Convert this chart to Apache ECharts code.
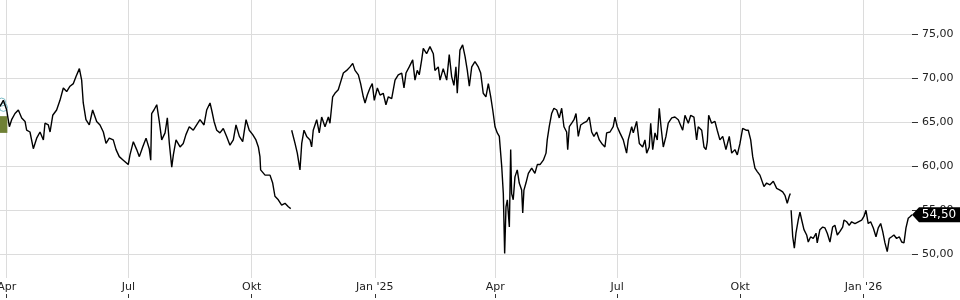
<!DOCTYPE html>
<html><head><meta charset="utf-8">
<script src="https://cdn.jsdelivr.net/npm/echarts@6/dist/echarts.min.js"></script>
<style>html,body{margin:0;padding:0;background:#fff}#c{width:960px;height:300px}</style>
</head><body><div id="c"></div>
<script>
// Start of the visible period; DAYS are day offsets from it
const START_DATE = '2024-03-27';
const END_DAY = 681.3;

const DAYS = [
0,2.5,5.0,7.0,8.7,11.2,13.7,16.2,18.7,19.9,22.4,24.9,27.4,29.9,32.4,33.6,36.1,37.4,39.4,42.3,
44.8,47.3,49.8,52.3,54.8,56.8,59.3,61.0,62.2,64.2,66.7,69.2,72.2,74.7,77.2,79.2,81.6,84.6,86.7,89.1,
92.1,95.8,97.1,99.6,102.1,104.1,106.6,109.1,111.5,112.6,113.3,115.0,117.1,119.0,120.8,123.3,125.0,126.5,128.3,129.5,
131.5,134.5,136.9,138.9,141.4,144.4,146.9,149.4,152.4,154.4,156.9,158.4,159.9,161.9,164.3,166.8,169.3,171.8,174.3,176.3,
178.8,181.3,183.8,186.2,188.8,191.2,193.0,194.2,194.7,198.0,201.7,203.7,205.4,207.9,210.4,212.9,215.4,217.2,217.5,
217.9,220.4,222.1,224.1,225.4,227.1,229.1,231.6,232.8,234.0,236.6,238.5,240.3,242.8,245.3,246.5,248.5,250.2,252.7,254.5,
256.5,259.0,261.5,263.5,265.2,267.7,269.4,271.4,272.7,274.4,276.4,278.1,279.6,281.9,283.9,286.3,288.3,290.1,292.6,295.1,
297.5,300.1,301.8,303.3,305.7,308.3,310.0,311.7,313.2,315.0,316.2,318.7,321.2,323.7,324.9,327.4,328.7,331.1,333.7,335.6,
337.4,339.1,340.6,341.6,343.6,345.6,347.4,349.1,350.6,352.4,354.8,357.3,359.1,361.0,363.0,364.8,366.6,368.1,369.8,371.5,
373.0,374.8,376.0,377.0,378.0,379.0,380.5,381.5,382.2,383.4,384.7,386.4,387.9,389.7,390.5,391.4,392.9,394.7,397.2,399.6,
401.4,403.4,405.9,407.9,408.8,410.3,412.1,413.8,415.9,417.8,419.6,421.3,423.3,424.1,425.3,427.1,428.8,430.3,432.0,433.8,
435.7,438.3,440.2,442.0,443.7,445.7,447.7,449.5,451.9,453.2,455.7,458.1,459.4,461.1,463.1,465.6,468.1,469.3,471.9,473.1,
475.6,477.6,480.1,481.8,483.1,485.0,486.1,487.6,489.3,491.0,492.5,493.8,495.5,497.5,499.2,501.8,504.2,506.7,508.0,510.0,
511.7,514.2,516.0,518.4,520.4,521.6,524.2,525.9,527.4,528.4,529.4,531.6,534.1,535.8,537.8,539.9,542.3,544.8,546.6,549.0,
550.8,552.8,554.8,557.3,559.0,560.8,562.3,564.0,565.7,567.7,569.0,570.7,572.7,575.2,577.7,580.2,582.7,584.7,586.4,588.1,
589.6,590.4,590.7,
591.0,592.2,593.4,594.6,596.3,597.6,598.9,600.6,602.6,603.8,605.6,607.5,609.6,610.5,612.5,614.6,616.3,618.0,620.0,622.0,
623.7,625.5,627.5,629.5,630.5,632.5,634.4,636.2,638.7,641.2,643.7,645.4,646.9,648.6,650.4,652.4,654.4,656.1,657.9,659.4,
661.1,662.8,664.3,666.1,667.8,669.8,671.8,673.6,675.3,676.8,678.5,680.0,681.3
];
const PRICES = [
66.8,67.5,66.4,64.5,65.3,66.0,66.4,65.5,65.1,64.1,63.9,62.0,63.2,63.9,63.0,64.9,64.7,63.9,65.8,66.4,
67.5,68.9,68.5,69.1,69.4,70.2,71.1,69.8,67.2,65.3,64.7,66.4,65.1,64.7,63.9,62.6,63.2,63.0,61.9,61.1,
60.7,60.2,61.3,62.8,61.9,61.1,62.2,63.2,62.0,60.7,66.0,66.4,67.0,65.1,63.0,63.8,65.5,62.6,59.9,61.3,
63.0,62.2,62.6,63.6,64.5,64.1,64.7,65.3,64.7,66.4,67.2,66.2,65.1,64.1,63.8,64.3,63.4,62.4,63.0,64.7,
63.4,62.8,65.3,64.1,63.6,63.0,62.2,61.1,59.6,59.0,59.0,58.1,56.6,56.2,55.6,55.8,55.4,55.2,null,
64.1,62.6,61.5,59.6,62.6,64.1,63.4,63.0,62.2,64.1,65.3,63.8,65.6,64.5,65.6,64.9,67.9,68.3,68.7,69.6,
70.6,70.9,71.3,71.7,70.9,70.4,69.4,67.9,67.2,68.1,68.9,69.4,67.5,68.9,68.1,68.3,67.0,67.9,67.7,69.8,
70.4,70.6,68.9,70.6,71.3,72.1,69.8,70.9,70.4,72.1,73.4,72.8,73.6,72.8,70.9,71.3,69.8,71.1,69.8,72.7,
70.2,69.2,71.3,68.3,73.2,73.8,72.5,70.9,69.1,71.3,71.9,71.3,70.6,68.3,67.9,69.4,67.9,66.4,64.5,63.8,
63.4,60.0,56.9,50.1,55.4,56.2,53.1,61.9,56.9,56.2,58.8,59.6,58.1,57.3,54.7,57.3,58.1,59.2,59.8,59.2,
60.2,60.2,60.7,61.5,63.0,64.5,66.0,66.6,66.4,65.5,66.6,64.5,63.9,61.9,64.5,64.9,65.3,66.0,63.4,64.7,
64.9,65.1,65.6,63.9,63.4,63.9,63.0,62.6,62.2,63.8,63.9,64.5,65.6,64.5,63.8,63.0,61.5,63.0,64.5,63.8,
65.1,62.6,62.2,63.0,61.5,62.2,64.9,61.9,63.8,63.0,66.6,64.5,62.2,63.4,64.9,65.5,65.6,65.3,65.5,64.1,
65.8,64.9,65.8,65.6,63.0,64.5,64.1,62.2,61.9,62.8,65.8,64.9,65.1,64.1,63.0,63.4,61.9,63.4,61.5,61.9,
61.3,62.6,64.3,64.1,64.1,63.0,61.1,59.8,59.4,59.0,58.8,57.7,58.1,57.9,58.3,57.5,57.3,57.1,56.7,55.8,
56.6,56.9,null,
55.0,52.0,50.7,52.4,53.9,54.8,53.9,52.8,52.2,51.4,52.0,51.8,52.4,51.3,52.8,53.1,53.0,52.4,51.4,53.1,
53.3,52.2,52.6,53.1,53.9,53.7,53.3,53.7,53.5,53.7,53.9,54.3,55.0,53.5,53.7,53.0,52.0,53.0,53.5,52.6,
51.3,50.3,51.8,52.0,52.2,51.8,52.0,51.4,51.3,53.0,54.1,54.3,54.5
];

// Axis ticks
const TICK_DATES = ['2024-04-01','2024-07-01','2024-10-01','2025-01-01','2025-04-01','2025-07-01','2025-10-01','2026-01-01'];
const TICK_LABELS = ['Apr','Jul','Okt',"Jan '25",'Apr','Jul','Okt',"Jan '26"];
const Y_TICKS = [50,55,60,65,70,75];

// Marker at the start of the period (value band and points)
const MARKER_BAND = [63.8, 65.7];
const MARKER_BAND_DAYS = [0, 5.5];
const MARKER_POINT_DAYS = [1.2, 2.6];
const MARKER_POINT_VALUES = [67.3, 66.7];

const DAY = 86400000;
const t0 = Date.parse(START_DATE);
const tickTs = TICK_DATES.map(d => Date.parse(d));
const lineData = DAYS.map((d, i) => [t0 + d * DAY, PRICES[i]]);
const lastIdx = PRICES.length - 1;
const fmt = v => Number(v).toFixed(2).replace('.', ',');
const FONT = 'DejaVu Sans';

const chart = echarts.init(document.getElementById('c'), null, {renderer: 'canvas'});
chart.setOption({
  animation: false,
  grid: {left: 0, right: 48, top: 0, bottom: 22, containLabel: false, outerBoundsMode: 'none'},
  xAxis: {
    type: 'value', min: t0, max: t0 + END_DAY * DAY, offset: 20,
    axisLine: {show: false},
    axisTick: {show: true, inside: true, length: 4, customValues: tickTs, lineStyle: {color: '#333'}},
    axisLabel: {
      inside: true, margin: 5, customValues: tickTs, color: '#222', fontSize: 11, fontFamily: FONT,
      formatter: v => { const i = tickTs.findIndex(t => Math.abs(t - v) < DAY); return i >= 0 ? TICK_LABELS[i] : ''; }
    },
    splitLine: {show: true, lineStyle: {color: '#dcdcdc', width: 1}}
  },
  yAxis: {
    type: 'value', position: 'right', min: 47.31, max: 78.9,
    axisLine: {show: false},
    axisTick: {show: true, length: 6, customValues: Y_TICKS, lineStyle: {color: '#333'}},
    axisLabel: {customValues: Y_TICKS, margin: 10, formatter: fmt, color: '#222', fontSize: 11, fontFamily: FONT},
    splitLine: {show: true, lineStyle: {color: '#dcdcdc', width: 1}}
  },
  series: [
    {
      type: 'line', data: lineData, showSymbol: false, connectNulls: false, clip: false,
      lineStyle: {color: '#000', width: 1.4},
      markArea: {
        silent: true,
        itemStyle: {color: '#6f8035'},
        data: [[{coord: [t0 + MARKER_BAND_DAYS[0] * DAY, MARKER_BAND[0]]}, {coord: [t0 + MARKER_BAND_DAYS[1] * DAY, MARKER_BAND[1]]}]]
      },
      markPoint: {
        silent: true,
        symbol: 'path://M0,7 L7,0 L48,0 L48,14 L7,14 Z',
        symbolSize: [48, 15],
        symbolOffset: [24, 0],
        itemStyle: {color: '#000'},
        label: {show: true, position: 'inside', offset: [3, 0], color: '#fff', fontSize: 12, fontFamily: FONT, formatter: p => fmt(p.value)},
        data: [{coord: lineData[lastIdx], value: PRICES[lastIdx]}]
      }
    },
    {
      type: 'scatter', symbol: 'circle', symbolSize: 8, silent: true,
      itemStyle: {color: 'rgba(0,0,0,0)', borderColor: '#5aaab8', borderWidth: 1},
      data: MARKER_POINT_DAYS.map((d, i) => [t0 + d * DAY, MARKER_POINT_VALUES[i]])
    }
  ]
});
</script></body></html>
